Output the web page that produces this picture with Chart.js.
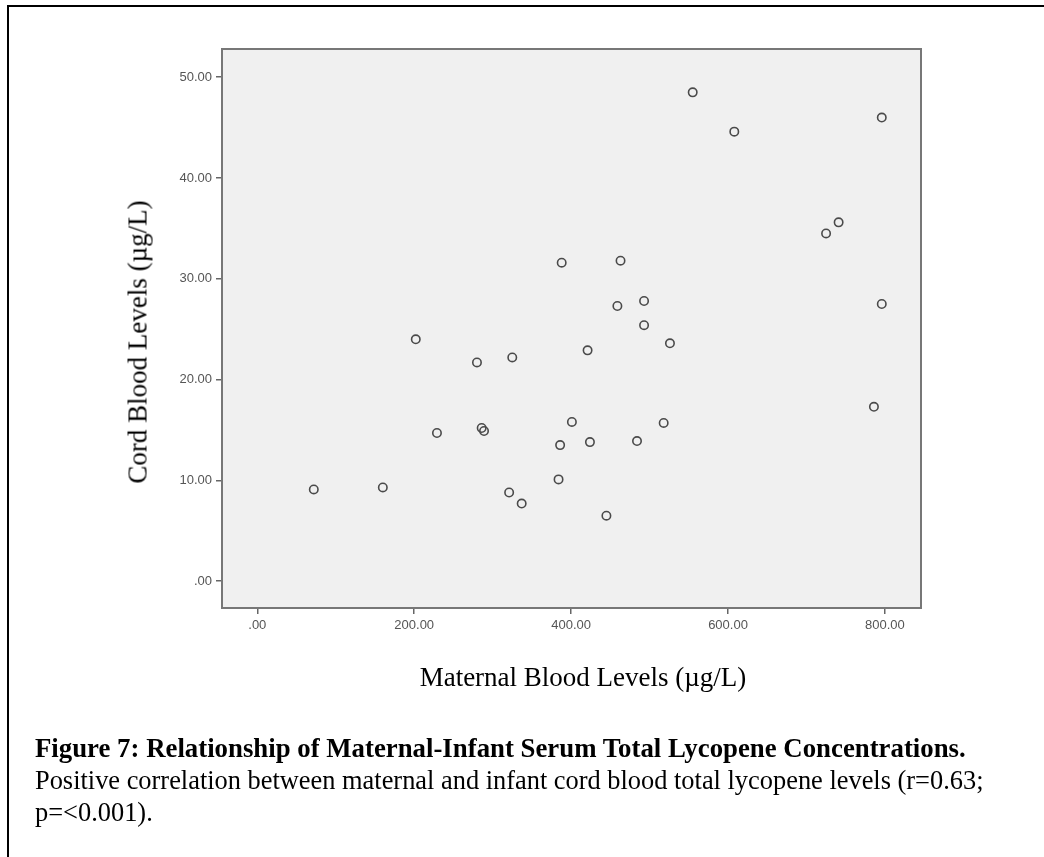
<!DOCTYPE html>
<html>
<head>
<meta charset="utf-8">
<script src="https://cdn.jsdelivr.net/npm/chart.js@4"></script>
<style>
  body { margin: 0; background: #fff; width: 1044px; height: 857px; position: relative; overflow: hidden;
         font-family: "Liberation Serif", "Times New Roman", serif; color: #000; }
  #border { position: absolute; left: 7px; top: 5px; width: 1100px; height: 900px;
            border-top: 2px solid #000; border-left: 2px solid #000; }
  #chart { position: absolute; left: 0; top: 0; }
  .ytitle { position: absolute; left: 138px; top: 342px; transform: translate(-50%, -50%) rotate(-90deg);
            white-space: nowrap; font-size: 27px; }
  .xtitle { position: absolute; left: 583px; top: 677px; transform: translate(-50%, -50%);
            white-space: nowrap; font-size: 27px; }
  .caption { position: absolute; left: 35px; top: 732px; font-size: 26.4px; line-height: 32px; white-space: nowrap; }
  .caption b { font-size: 26.8px; }
</style>
</head>
<body>
<div id="border"></div>
<canvas id="chart" width="1044" height="857"></canvas>
<div class="ytitle">Cord Blood Levels (µg/L)</div>
<div class="xtitle">Maternal Blood Levels (µg/L)</div>
<div class="caption"><b>Figure 7: Relationship of Maternal-Infant Serum Total Lycopene Concentrations.</b><br>
Positive correlation between maternal and infant cord blood total lycopene levels (r=0.63;<br>
p=&lt;0.001).</div>
<script>
// maternal (x) vs cord (y) lycopene
const maternal = [72, 160, 202, 229, 280, 286, 289, 325, 321, 337, 388, 384, 386, 401, 421, 424,
  445, 463, 459, 493, 493, 484, 518, 526, 555, 608, 725, 741, 796, 796, 786]
const cord = [9.1, 9.3, 24.0, 14.7, 21.7, 15.2, 14.9, 22.2, 8.8, 7.7, 31.6, 10.1, 13.5, 15.8, 22.9, 13.8,
  6.5, 31.8, 27.3, 27.8, 25.4, 13.9, 15.7, 23.6, 48.5, 44.6, 34.5, 35.6, 46.0, 27.5, 17.3]

const xTicks = [0, 200, 400, 600, 800]
const xTickLabels = ['.00', '200.00', '400.00', '600.00', '800.00']
const yTicks = [0, 10, 20, 30, 40, 50]
const yTickLabels = ['.00', '10.00', '20.00', '30.00', '40.00', '50.00']

const plotFrame = {
  id: 'plotFrame',
  beforeDraw(chart) {
    const { ctx, chartArea: a } = chart
    ctx.save()
    ctx.fillStyle = '#f0f0f0'
    ctx.fillRect(a.left, a.top, a.width, a.height)
    ctx.restore()
  },
  beforeDatasetsDraw(chart) {
    const { ctx, chartArea: a } = chart
    ctx.save()
    ctx.strokeStyle = '#777'
    ctx.lineWidth = 2
    ctx.strokeRect(a.left, a.top, a.width, a.height)
    ctx.restore()
  },
}

const tickFont = { family: '"Liberation Sans", Arial, sans-serif', size: 13 }
const tickGrid = { drawOnChartArea: false, drawTicks: true, tickLength: 6, color: '#666', lineWidth: 1.5 }

new Chart(document.getElementById('chart'), {
  type: 'scatter',
  data: {
    datasets: [{
      data: maternal.map((x, i) => ({ x, y: cord[i] })),
      pointStyle: 'circle',
      pointRadius: 4.2,
      borderWidth: 1.6,
      borderColor: '#4a4a4a',
      backgroundColor: 'rgba(0,0,0,0)',
    }],
  },
  options: {
    responsive: false,
    animation: false,
    layout: { padding: { left: 0, top: 49, right: 123, bottom: 209 } },
    plugins: { legend: { display: false }, tooltip: { enabled: false } },
    scales: {
      x: {
        type: 'linear',
        min: -45,
        max: 846,
        afterBuildTicks: (axis) => { axis.ticks = xTicks.map((value) => ({ value })) },
        afterFit: (axis) => { axis.height = 40 },
        ticks: {
          callback: (v) => xTickLabels[xTicks.indexOf(v)],
          font: tickFont,
          color: '#555',
          padding: 4,
          maxRotation: 0,
        },
        grid: tickGrid,
        border: { display: false },
      },
      y: {
        type: 'linear',
        min: -2.66,
        max: 52.8,
        afterBuildTicks: (axis) => { axis.ticks = yTicks.map((value) => ({ value })) },
        afterFit: (axis) => { axis.width = 222 },
        ticks: {
          callback: (v) => yTickLabels[yTicks.indexOf(v)],
          font: tickFont,
          color: '#555',
          padding: 4,
        },
        grid: tickGrid,
        border: { display: false },
      },
    },
  },
  plugins: [plotFrame],
})
</script>
</body>
</html>
